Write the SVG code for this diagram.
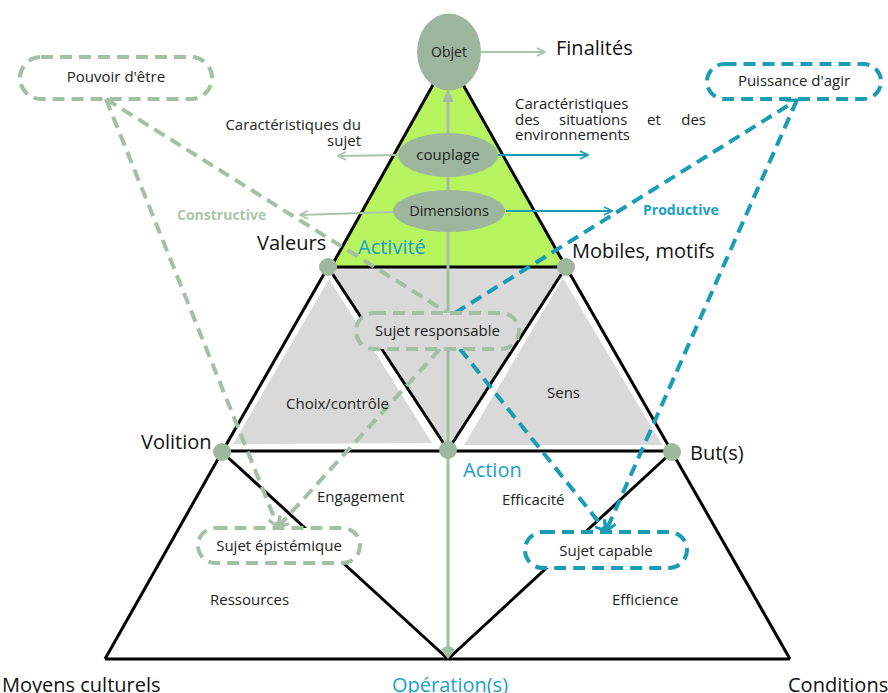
<svg xmlns="http://www.w3.org/2000/svg" width="888" height="693" viewBox="0 0 888 693">
<style>
  text { font-family: "Open Sans", "Noto Sans", "DejaVu Sans", sans-serif; fill: #222; }
  .s { font-size: 15px; }
  .b { font-size: 20px; fill: #111; }
  .tealt { fill: #1aa0c8; }
  .k { stroke: #000; stroke-width: 3; fill: none; stroke-linejoin: round; }
  .dg { stroke: #a3c0a6; stroke-width: 4; stroke-dasharray: 12 7; fill: none; }
  .dt { stroke: #1a9cb4; stroke-width: 4; stroke-dasharray: 12 7; fill: none; }
  .node { fill: #9db89f; }
  .ell { fill: #9db79f; }
  .ag { stroke: #a8c4ab; stroke-width: 2; fill: none; }
  .at { stroke: #1a9cb4; stroke-width: 2; fill: none; }
</style>
<defs>
  <marker id="mg" viewBox="0 0 10 10" refX="9" refY="5" markerWidth="10" markerHeight="10" markerUnits="userSpaceOnUse" orient="auto">
    <path d="M1,1 L9,5 L1,9" fill="none" stroke="#a8c4ab" stroke-width="1.8"/>
  </marker>
  <marker id="mt" viewBox="0 0 10 10" refX="9" refY="5" markerWidth="10" markerHeight="10" markerUnits="userSpaceOnUse" orient="auto">
    <path d="M1,1 L9,5 L1,9" fill="none" stroke="#1a9cb4" stroke-width="1.8"/>
  </marker>
  <marker id="dgm" viewBox="0 0 14 14" refX="12" refY="7" markerWidth="14" markerHeight="14" markerUnits="userSpaceOnUse" orient="auto">
    <path d="M2,1 L12,7 L2,13" fill="none" stroke="#a3c0a6" stroke-width="3"/>
  </marker>
  <marker id="dtm" viewBox="0 0 14 14" refX="12" refY="7" markerWidth="14" markerHeight="14" markerUnits="userSpaceOnUse" orient="auto">
    <path d="M2,1 L12,7 L2,13" fill="none" stroke="#1a9cb4" stroke-width="3"/>
  </marker>
  <marker id="vup" viewBox="0 0 12 12" refX="11" refY="6" markerWidth="12" markerHeight="12" markerUnits="userSpaceOnUse" orient="auto">
    <path d="M0,0 L12,6 L0,12 Z" fill="#a3bda6"/>
  </marker>
</defs>

<!-- fills -->
<g id="fills">
  <polygon points="448,58 331,267 566,267" fill="#b7f45f"/>
  <polygon points="330,268 565,268 448,450" fill="#d9d9d9"/>
  <polygon points="329,279 233,444 432,443" fill="#d9d9d9"/>
  <polygon points="563,278 464,445 662,445" fill="#d9d9d9"/>
</g>

<!-- structure lines -->
<g id="structure">
  <polyline class="k" points="331,267 448,58 566,267"/>
  <line class="k" x1="328" y1="267" x2="566" y2="267"/>
  <line class="k" x1="328" y1="267" x2="222" y2="452"/>
  <line class="k" x1="328" y1="267" x2="448" y2="450"/>
  <line class="k" x1="566" y1="267" x2="448" y2="450"/>
  <line class="k" x1="566" y1="267" x2="672" y2="452"/>
  <line class="k" x1="222" y1="451" x2="672" y2="451"/>
  <line class="k" x1="105" y1="659" x2="222" y2="452"/>
  <line class="k" x1="222" y1="452" x2="448" y2="659"/>
  <line class="k" x1="448" y1="659" x2="672" y2="452"/>
  <line class="k" x1="672" y1="452" x2="790" y2="659"/>
  <line class="k" x1="105" y1="659" x2="790" y2="659"/>
</g>

<!-- connectors -->
<g id="connectors">
  <line x1="448" y1="652" x2="448" y2="91" stroke="#a3bda6" stroke-width="3" marker-end="url(#vup)"/>
  <path d="M441,650 Q448,642 455,650 L448,659 Z" fill="#a3bda6"/>
  <line class="ag" x1="481" y1="52" x2="545" y2="52" marker-end="url(#mg)"/>
  <line class="ag" x1="398" y1="155" x2="338" y2="156" marker-end="url(#mg)"/>
  <line class="at" x1="497" y1="155" x2="588" y2="155" marker-end="url(#mt)"/>
  <line class="ag" x1="393" y1="212" x2="300" y2="215" marker-end="url(#mg)"/>
  <line class="at" x1="506" y1="211" x2="612" y2="211" marker-end="url(#mt)"/>

  <line class="dg" x1="106" y1="99" x2="448" y2="313"/>
  <line class="dg" x1="106" y1="99" x2="278" y2="527" marker-end="url(#dgm)"/>
  <line class="dg" x1="440" y1="349" x2="278" y2="527" marker-end="url(#dgm)"/>
  <line class="dt" x1="455" y1="313" x2="797" y2="100" marker-end="url(#dtm)"/>
  <line class="dt" x1="797" y1="100" x2="606" y2="531" marker-end="url(#dtm)"/>
  <line class="dt" x1="460" y1="349" x2="606" y2="531" marker-end="url(#dtm)"/>
</g>

<!-- nodes -->
<g id="objet">
  <ellipse class="ell" cx="449" cy="52" rx="32" ry="38.5"/>
  <text x="449" y="57" font-size="14" text-anchor="middle">Objet</text>
</g>
<g id="couplage">
  <ellipse class="ell" cx="448" cy="155" rx="50" ry="22"/>
  <text class="s" x="448" y="160" text-anchor="middle">couplage</text>
</g>
<g id="dimensions">
  <ellipse class="ell" cx="449" cy="211" rx="56" ry="21"/>
  <text x="449" y="216" font-size="14.5" text-anchor="middle">Dimensions</text>
</g>

<g id="valeurs"><circle class="node" cx="328" cy="267" r="9"/><text class="b" x="257" y="250">Valeurs</text></g>
<g id="mobiles"><circle class="node" cx="566" cy="267" r="9"/><text class="b" x="572" y="258">Mobiles, motifs</text></g>
<g id="volition"><circle class="node" cx="222" cy="452" r="9"/><text class="b" x="141" y="449">Volition</text></g>
<g id="action"><circle class="node" cx="448" cy="450" r="9"/><text class="b tealt" x="463" y="477">Action</text></g>
<g id="buts"><circle class="node" cx="672" cy="452" r="9"/><text class="b" x="690" y="460">But(s)</text></g>

<g id="pouvoir">
  <rect class="dg" x="20" y="57" width="192" height="42" rx="21" fill="#fff"/>
  <text class="s" x="116" y="82" text-anchor="middle">Pouvoir d'être</text>
</g>
<g id="puissance">
  <rect class="dt" x="707" y="64" width="174" height="35" rx="17.5" fill="#fff"/>
  <text class="s" x="794" y="86" text-anchor="middle">Puissance d'agir</text>
</g>
<g id="responsable">
  <rect class="dg" x="356" y="313" width="163" height="36" rx="18" style="fill:#d9d9d9"/>
  <text class="s" x="437.5" y="336" text-anchor="middle">Sujet responsable</text>
</g>
<g id="epistemique">
  <rect class="dg" x="198" y="528" width="162" height="35" rx="17.5" style="fill:#fff"/>
  <text class="s" x="279" y="551" text-anchor="middle">Sujet épistémique</text>
</g>
<g id="capable">
  <rect class="dt" x="525" y="532" width="162" height="36" rx="18" style="fill:#fff"/>
  <text class="s" x="606" y="556" text-anchor="middle">Sujet capable</text>
</g>

<!-- labels -->
<g id="labels">
  <text class="b" x="556" y="55">Finalités</text>
  <text class="s" x="361" y="130" text-anchor="end">Caractéristiques du</text>
  <text class="s" x="361" y="146" text-anchor="end">sujet</text>
  <text class="s" x="515" y="109">Caractéristiques</text>
  <text class="s" x="515" y="125">des</text>
  <text class="s" x="559" y="125">situations</text>
  <text class="s" x="647" y="125">et</text>
  <text class="s" x="706" y="125" text-anchor="end">des</text>
  <text class="s" x="515" y="140">environnements</text>
  <text x="177" y="220" font-size="14" font-weight="bold" style="fill:#a9c5ab">Constructive</text>
  <text x="643" y="215" font-size="14" font-weight="bold" style="fill:#1a9fc0">Productive</text>
  <text class="b tealt" x="358" y="254">Activité</text>
  <text class="s" x="286" y="409">Choix/contrôle</text>
  <text class="s" x="547" y="398">Sens</text>
  <text class="s" x="317" y="502">Engagement</text>
  <text class="s" x="502" y="505">Efficacité</text>
  <text class="s" x="210" y="605">Ressources</text>
  <text class="s" x="612" y="605">Efficience</text>
  <text class="b" x="2" y="692">Moyens culturels</text>
  <text class="b tealt" x="450" y="692" text-anchor="middle">Opération(s)</text>
  <text class="b" x="788" y="692">Conditions</text>
</g>
</svg>
